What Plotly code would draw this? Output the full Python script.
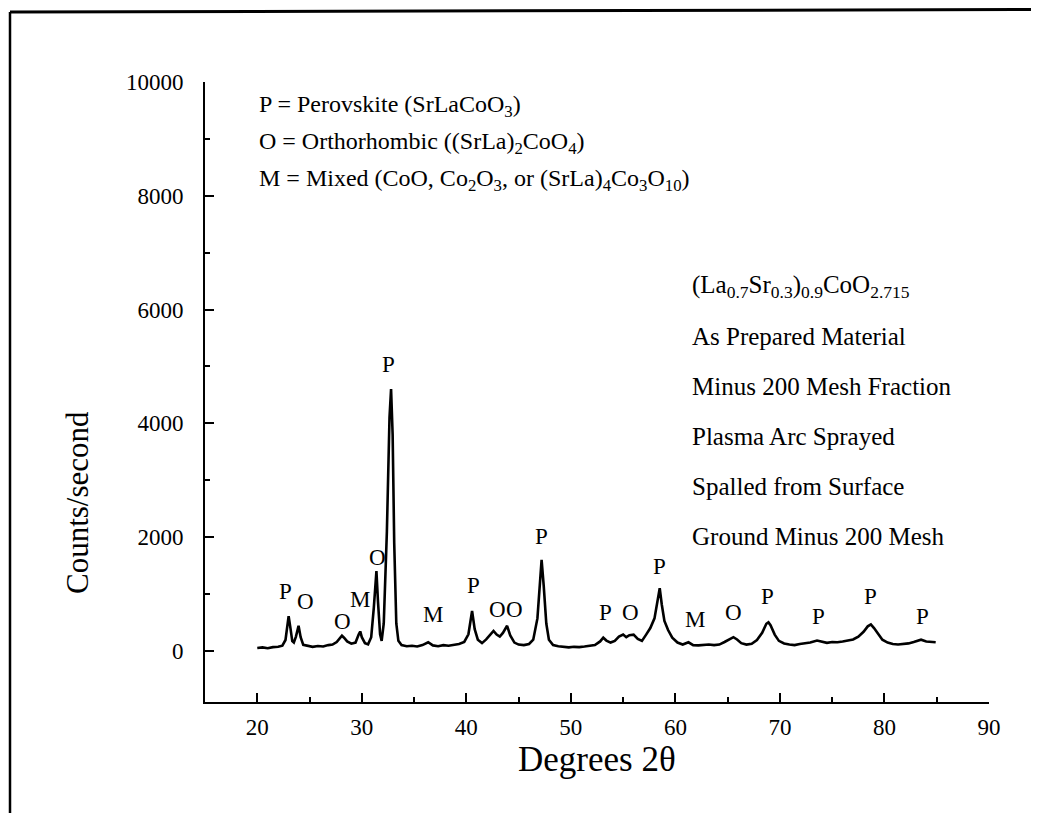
import plotly.graph_objects as go

# ---- data ----
two_theta = [20.0, 20.5, 21.0, 21.5, 22.0, 22.4, 22.7, 22.9, 23.0, 23.15, 23.35, 23.5, 23.7, 23.95,
             24.15, 24.4, 24.8, 25.3, 25.8, 26.3, 26.8, 27.2, 27.6, 27.9, 28.1, 28.3, 28.6, 29.0,
             29.4, 29.7, 29.85, 30.0, 30.3, 30.6, 30.9, 31.15, 31.4, 31.55, 31.75, 31.9, 32.1,
             32.4, 32.65, 32.8, 32.95, 33.1, 33.3, 33.5, 33.8, 34.3, 34.8, 35.3, 35.8, 36.35,
             36.8, 37.3, 37.8, 38.3, 38.8, 39.3, 39.8, 40.2, 40.55, 40.8, 41.1, 41.5, 41.9, 42.3,
             42.6, 42.9, 43.2, 43.5, 43.9, 44.2, 44.6, 45.0, 45.5, 46.0, 46.4, 46.8, 47.05, 47.2,
             47.4, 47.65, 47.9, 48.3, 48.8, 49.3, 49.8, 50.3, 50.8, 51.3, 51.8, 52.3, 52.8, 53.1,
             53.4, 53.8, 54.2, 54.6, 55.0, 55.3, 55.6, 56.0, 56.4, 56.8, 57.2, 57.6, 58.0, 58.3,
             58.5, 58.7, 58.95, 59.3, 59.7, 60.2, 60.7, 61.25, 61.7, 62.2, 62.7, 63.2, 63.7, 64.2,
             64.7, 65.2, 65.55, 65.9, 66.3, 66.8, 67.3, 67.8, 68.3, 68.7, 68.9, 69.1, 69.5, 69.9,
             70.4, 70.9, 71.4, 71.9, 72.4, 72.9, 73.55, 74.0, 74.5, 75.0, 75.5, 76.0, 76.5, 77.0,
             77.5, 78.0, 78.4, 78.7, 79.0, 79.4, 79.8, 80.3, 80.8, 81.3, 81.8, 82.3, 82.8, 83.5,
             84.0, 84.5, 84.9]
counts = [50, 60, 45, 65, 70, 90, 190, 490, 610, 430, 170, 145, 250, 440,
          240, 105, 90, 70, 85, 75, 100, 110, 155, 220, 265, 230, 165, 125,
          145, 285, 340, 240, 135, 115, 240, 760, 1400, 860, 290, 175, 480,
          2100, 4100, 4600, 3800, 1900, 480, 175, 100, 80, 90, 75, 100, 150,
          95, 80, 100, 90, 110, 120, 155, 290, 700, 380, 195, 135, 200, 285,
          350, 285, 250, 315, 440, 270, 145, 110, 100, 120, 195, 570, 1330, 1600,
          1150, 480, 195, 100, 80, 65, 60, 70, 65, 75, 85, 100, 165, 230,
          180, 145, 175, 250, 285, 240, 275, 285, 210, 175, 285, 400, 570, 900,
          1100, 810, 525, 365, 230, 145, 110, 150, 100, 95, 100, 110, 100, 110,
          155, 210, 240, 200, 135, 110, 125, 190, 315, 475, 500, 450, 285, 175,
          130, 110, 100, 120, 130, 145, 180, 155, 140, 155, 150, 165, 185, 200,
          250, 335, 430, 465, 400, 290, 195, 145, 120, 110, 120, 130, 155, 195,
          165, 160, 150]

peak_labels = ["P", "O", "O", "M", "O", "P", "M", "P", "O", "O", "P",
               "P", "O", "P", "M", "O", "P", "P", "P", "P"]
label_theta = [22.7, 24.6, 28.2, 29.85, 31.5, 32.6, 36.8, 40.7, 43.0, 44.6, 47.2,
               53.3, 55.7, 58.5, 61.9, 65.55, 68.8, 73.7, 78.7, 83.6]
label_counts = [1040, 870, 520, 900, 1640, 5040, 640, 1140, 730, 730, 2010,
                670, 670, 1490, 550, 670, 960, 605, 960, 605]

x_ticks = [20, 30, 40, 50, 60, 70, 80, 90]
y_ticks = [0, 2000, 4000, 6000, 8000, 10000]

legend_lines = ["P = Perovskite (SrLaCoO<sub>3</sub>)",
                "O = Orthorhombic ((SrLa)<sub>2</sub>CoO<sub>4</sub>)",
                "M = Mixed (CoO, Co<sub>2</sub>O<sub>3</sub>, or (SrLa)<sub>4</sub>Co<sub>3</sub>O<sub>10</sub>)"]
sample_lines = ["(La<sub>0.7</sub>Sr<sub>0.3</sub>)<sub>0.9</sub>CoO<sub>2.715</sub>",
                "As Prepared Material",
                "Minus 200 Mesh Fraction",
                "Plasma Arc Sprayed",
                "Spalled from Surface",
                "Ground Minus 200 Mesh"]

FONT = "Liberation Serif"
W, H = 1039, 813
L, R, T, B = 197, 58, 74, 119
pw, ph = W - L - R, H - T - B


def px_to_paper(px, py):
    return (px - L) / pw, (H - B - py) / ph


fig = go.Figure()
fig.add_trace(go.Scatter(x=two_theta, y=counts, mode="lines",
                         line=dict(color="black", width=2.6), showlegend=False,
                         hoverinfo="skip"))

for lab, xt, yc in zip(peak_labels, label_theta, label_counts):
    fig.add_annotation(x=xt, y=yc, text=lab, showarrow=False, xref="x", yref="y",
                       xanchor="center", yanchor="middle",
                       font=dict(family=FONT, size=23, color="black"))

for i, t in enumerate(legend_lines):
    xp, yp = px_to_paper(249, 98 + 37 * i)
    fig.add_annotation(x=xp, y=yp, xref="paper", yref="paper", text=t, showarrow=False,
                       xanchor="left", yanchor="middle",
                       font=dict(family=FONT, size=24, color="black"))

for i, t in enumerate(sample_lines):
    xp, yp = px_to_paper(682, 278 + 50 * i)
    fig.add_annotation(x=xp, y=yp, xref="paper", yref="paper", text=t, showarrow=False,
                       xanchor="left", yanchor="middle",
                       font=dict(family=FONT, size=25, color="black"))

# axis titles
xp, yp = px_to_paper(70, 495)
fig.add_annotation(x=xp, y=yp, xref="paper", yref="paper", text="Counts/second",
                   showarrow=False, textangle=-90, xanchor="center", yanchor="middle",
                   font=dict(family=FONT, size=31, color="black"))
xp, yp = px_to_paper(589, 751)
fig.add_annotation(x=xp, y=yp, xref="paper", yref="paper", text="Degrees 2θ",
                   showarrow=False, xanchor="center", yanchor="middle",
                   font=dict(family=FONT, size=35, color="black"))

# outer frame (scanned border)
x0, y0 = px_to_paper(2, 4)
x1, y1 = px_to_paper(1039, 1.5)
_, yb = px_to_paper(2, 813)
fig.add_shape(type="line", xref="paper", yref="paper", x0=x0, y0=y0, x1=x1, y1=y1,
              line=dict(color="black", width=3))
fig.add_shape(type="line", xref="paper", yref="paper", x0=x0, y0=y0, x1=x0, y1=yb,
              line=dict(color="black", width=2.5))

fig.update_xaxes(range=[15, 90], tickvals=x_ticks, ticks="inside", ticklen=9,
                 tickwidth=1.5, tickcolor="black", showline=True, linecolor="black",
                 linewidth=2, showgrid=False, zeroline=False, ticklabelstandoff=3,
                 tickfont=dict(family=FONT, size=23, color="black"),
                 minor=dict(dtick=5, tick0=15, ticks="inside", ticklen=5, tickwidth=1.5,
                            tickcolor="black", showgrid=False))
fig.update_yaxes(range=[-900, 10000], tickvals=y_ticks, tickformat="d", ticks="inside",
                 ticklen=9, tickwidth=1.5, tickcolor="black", showline=True,
                 linecolor="black", linewidth=2, showgrid=False, zeroline=False,
                 ticklabelstandoff=15,
                 tickfont=dict(family=FONT, size=23, color="black"),
                 minor=dict(dtick=1000, tick0=0, ticks="inside", ticklen=5, tickwidth=1.5,
                            tickcolor="black", showgrid=False))

fig.update_layout(width=W, height=H, autosize=False,
                  margin=dict(l=L, r=R, t=T, b=B, autoexpand=False),
                  paper_bgcolor="white", plot_bgcolor="white",
                  font=dict(family=FONT, color="black"))

fig.write_html("out.html")
